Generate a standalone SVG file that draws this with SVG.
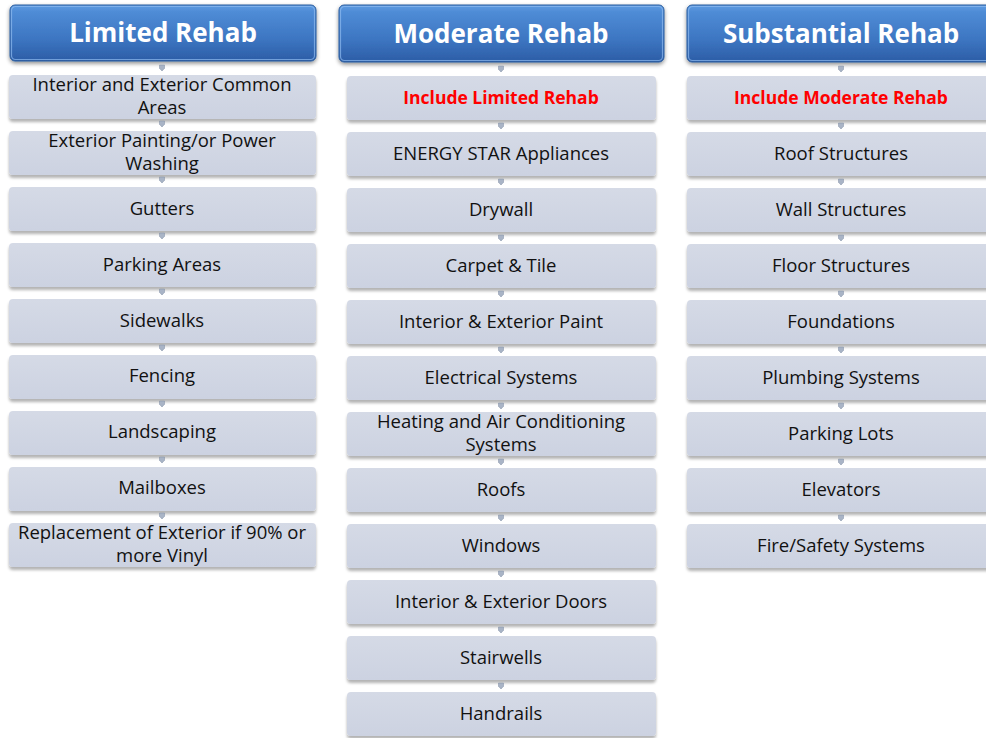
<svg xmlns="http://www.w3.org/2000/svg" width="986" height="738" viewBox="0 0 986 738">
<defs>
<linearGradient id="hdrGrad" x1="0" y1="0" x2="0" y2="1">
<stop offset="0" stop-color="#5e9ce2"/>
<stop offset="0.12" stop-color="#4f8cd6"/>
<stop offset="0.6" stop-color="#3d76c2"/>
<stop offset="1" stop-color="#2c5da6"/>
</linearGradient>
<linearGradient id="itemGrad" x1="0" y1="0" x2="0" y2="1">
<stop offset="0" stop-color="#d5dae6"/>
<stop offset="1" stop-color="#ccd2e1"/>
</linearGradient>
<filter id="hdrShadow" x="-5%" y="-10%" width="110%" height="140%">
<feGaussianBlur in="SourceAlpha" stdDeviation="2"/>
<feOffset dy="2" result="b"/>
<feComponentTransfer><feFuncA type="linear" slope="0.45"/></feComponentTransfer>
<feMerge><feMergeNode/><feMergeNode in="SourceGraphic"/></feMerge>
</filter>
<filter id="itemShadow" x="-5%" y="-10%" width="110%" height="150%">
<feGaussianBlur in="SourceAlpha" stdDeviation="1.6"/>
<feOffset dy="2.5" result="b"/>
<feComponentTransfer><feFuncA type="linear" slope="0.3"/></feComponentTransfer>
<feMerge><feMergeNode/><feMergeNode in="SourceGraphic"/></feMerge>
</filter>
<path id="arrow" d="M-2.5,-3 H2.5 V0.3 L0,3 L-2.5,0.3 Z"/>
</defs>
<style>
.hdr { fill: url(#hdrGrad); stroke: #2f5f9e; stroke-width: 1; filter: url(#hdrShadow); }
.hdrHi { fill: none; stroke: #8fbaf0; stroke-width: 1.2; opacity: 0.7; }
.hdrTxt { font-family: "Open Sans", "Liberation Sans", sans-serif; font-weight: bold; font-size: 26px; fill: #ffffff; text-anchor: middle; }
.item { fill: url(#itemGrad); filter: url(#itemShadow); }
.txt { font-family: "Open Sans", "Liberation Sans", sans-serif; font-size: 18.5px; fill: #111111; text-anchor: middle; }
.red { font-family: "Open Sans", "Liberation Sans", sans-serif; font-size: 17.5px; font-weight: bold; fill: #ff0000; text-anchor: middle; }
.conn use { fill: #a9b4c6; stroke: #7f8ca2; stroke-width: 0.5; }
</style>

<!-- Headers -->
<g id="hdr-limited">
<rect class="hdr" x="10" y="5" width="306" height="56" rx="5"/>
<rect class="hdrHi" x="11.5" y="6.5" width="303" height="53" rx="4"/>
<text class="hdrTxt" x="163" y="42">Limited Rehab</text>
</g>
<g id="hdr-moderate">
<rect class="hdr" x="339" y="5" width="325" height="57" rx="5"/>
<rect class="hdrHi" x="340.5" y="6.5" width="322" height="54" rx="4"/>
<text class="hdrTxt" x="501" y="43">Moderate Rehab</text>
</g>
<g id="hdr-substantial">
<rect class="hdr" x="687" y="5" width="310" height="57" rx="5"/>
<rect class="hdrHi" x="688.5" y="6.5" width="307" height="54" rx="4"/>
<text class="hdrTxt" x="841" y="43">Substantial Rehab</text>
</g>

<!-- Column 1: Limited Rehab -->
<g id="l1"><rect class="item" x="9" y="75" width="307" height="44" rx="4"/><text class="txt" x="162" y="91">Interior and Exterior Common</text><text class="txt" x="162" y="114">Areas</text></g>
<g id="l2"><rect class="item" x="9" y="131" width="307" height="44" rx="4"/><text class="txt" x="162" y="147">Exterior Painting/or Power</text><text class="txt" x="162" y="170">Washing</text></g>
<g id="l3"><rect class="item" x="9" y="187" width="307" height="44" rx="4"/><text class="txt" x="162" y="215">Gutters</text></g>
<g id="l4"><rect class="item" x="9" y="243" width="307" height="44" rx="4"/><text class="txt" x="162" y="271">Parking Areas</text></g>
<g id="l5"><rect class="item" x="9" y="299" width="307" height="44" rx="4"/><text class="txt" x="162" y="327">Sidewalks</text></g>
<g id="l6"><rect class="item" x="9" y="355" width="307" height="44" rx="4"/><text class="txt" x="162" y="382">Fencing</text></g>
<g id="l7"><rect class="item" x="9" y="411" width="307" height="44" rx="4"/><text class="txt" x="162" y="438">Landscaping</text></g>
<g id="l8"><rect class="item" x="9" y="467" width="307" height="44" rx="4"/><text class="txt" x="162" y="494">Mailboxes</text></g>
<g id="l9"><rect class="item" x="9" y="523" width="307" height="44" rx="4"/><text class="txt" x="162" y="539">Replacement of Exterior if 90% or</text><text class="txt" x="162" y="562">more Vinyl</text></g>

<!-- Column 2: Moderate Rehab -->
<g id="m1"><rect class="item" x="347" y="76" width="309" height="44" rx="4"/><text class="red" x="501" y="104">Include Limited Rehab</text></g>
<g id="m2"><rect class="item" x="347" y="132" width="309" height="44" rx="4"/><text class="txt" x="501" y="160">ENERGY STAR Appliances</text></g>
<g id="m3"><rect class="item" x="347" y="188" width="309" height="44" rx="4"/><text class="txt" x="501" y="216">Drywall</text></g>
<g id="m4"><rect class="item" x="347" y="244" width="309" height="44" rx="4"/><text class="txt" x="501" y="272">Carpet &amp; Tile</text></g>
<g id="m5"><rect class="item" x="347" y="300" width="309" height="44" rx="4"/><text class="txt" x="501" y="328">Interior &amp; Exterior Paint</text></g>
<g id="m6"><rect class="item" x="347" y="356" width="309" height="44" rx="4"/><text class="txt" x="501" y="384">Electrical Systems</text></g>
<g id="m7"><rect class="item" x="347" y="412" width="309" height="44" rx="4"/><text class="txt" x="501" y="428">Heating and Air Conditioning</text><text class="txt" x="501" y="451">Systems</text></g>
<g id="m8"><rect class="item" x="347" y="468" width="309" height="44" rx="4"/><text class="txt" x="501" y="496">Roofs</text></g>
<g id="m9"><rect class="item" x="347" y="524" width="309" height="44" rx="4"/><text class="txt" x="501" y="552">Windows</text></g>
<g id="m10"><rect class="item" x="347" y="580" width="309" height="44" rx="4"/><text class="txt" x="501" y="608">Interior &amp; Exterior Doors</text></g>
<g id="m11"><rect class="item" x="347" y="636" width="309" height="44" rx="4"/><text class="txt" x="501" y="664">Stairwells</text></g>
<g id="m12"><rect class="item" x="347" y="692" width="309" height="44" rx="4"/><text class="txt" x="501" y="720">Handrails</text></g>

<!-- Column 3: Substantial Rehab -->
<g id="s1"><rect class="item" x="687" y="76" width="310" height="44" rx="4"/><text class="red" x="841" y="104">Include Moderate Rehab</text></g>
<g id="s2"><rect class="item" x="687" y="132" width="310" height="44" rx="4"/><text class="txt" x="841" y="160">Roof Structures</text></g>
<g id="s3"><rect class="item" x="687" y="188" width="310" height="44" rx="4"/><text class="txt" x="841" y="216">Wall Structures</text></g>
<g id="s4"><rect class="item" x="687" y="244" width="310" height="44" rx="4"/><text class="txt" x="841" y="272">Floor Structures</text></g>
<g id="s5"><rect class="item" x="687" y="300" width="310" height="44" rx="4"/><text class="txt" x="841" y="328">Foundations</text></g>
<g id="s6"><rect class="item" x="687" y="356" width="310" height="44" rx="4"/><text class="txt" x="841" y="384">Plumbing Systems</text></g>
<g id="s7"><rect class="item" x="687" y="412" width="310" height="44" rx="4"/><text class="txt" x="841" y="440">Parking Lots</text></g>
<g id="s8"><rect class="item" x="687" y="468" width="310" height="44" rx="4"/><text class="txt" x="841" y="496">Elevators</text></g>
<g id="s9"><rect class="item" x="687" y="524" width="310" height="44" rx="4"/><text class="txt" x="841" y="552">Fire/Safety Systems</text></g>

<!-- Connectors -->
<g id="connectors" class="conn">
<use href="#arrow" x="162" y="68"/>
<use href="#arrow" x="162" y="124"/>
<use href="#arrow" x="162" y="180"/>
<use href="#arrow" x="162" y="236"/>
<use href="#arrow" x="162" y="292"/>
<use href="#arrow" x="162" y="348"/>
<use href="#arrow" x="162" y="404"/>
<use href="#arrow" x="162" y="460"/>
<use href="#arrow" x="162" y="516"/>
<use href="#arrow" x="501" y="69"/>
<use href="#arrow" x="501" y="126"/>
<use href="#arrow" x="501" y="182"/>
<use href="#arrow" x="501" y="238"/>
<use href="#arrow" x="501" y="294"/>
<use href="#arrow" x="501" y="350"/>
<use href="#arrow" x="501" y="406"/>
<use href="#arrow" x="501" y="462"/>
<use href="#arrow" x="501" y="518"/>
<use href="#arrow" x="501" y="574"/>
<use href="#arrow" x="501" y="630"/>
<use href="#arrow" x="501" y="686"/>
<use href="#arrow" x="841" y="69"/>
<use href="#arrow" x="841" y="126"/>
<use href="#arrow" x="841" y="182"/>
<use href="#arrow" x="841" y="238"/>
<use href="#arrow" x="841" y="294"/>
<use href="#arrow" x="841" y="350"/>
<use href="#arrow" x="841" y="406"/>
<use href="#arrow" x="841" y="462"/>
<use href="#arrow" x="841" y="518"/>
</g>
</svg>
